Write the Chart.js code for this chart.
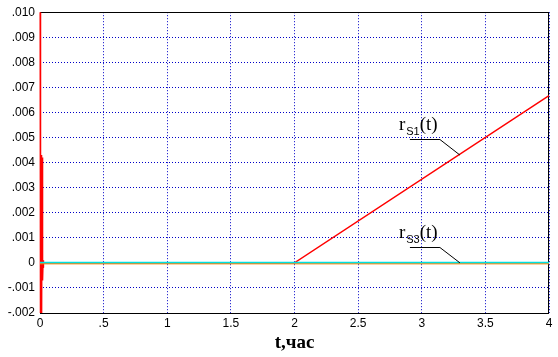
<!DOCTYPE html>
<html>
<head>
<meta charset="utf-8">
<script src="https://cdn.jsdelivr.net/npm/chart.js@4"></script>
<style>
  body { margin: 0; background: #fff; }
  canvas { display: block; }
</style>
</head>
<body>
<canvas id="chart" width="558" height="357"></canvas>
<script>
// r_S1(t): spike near t=0, then zero until t=2, then a linear rise
const tS1 = [0, 0.002, 0.004, 0.006, 0.008, 0.010, 0.012, 0.014, 0.016,
             0.018, 0.020, 0.022, 0.024, 0.026, 0.028, 2, 4];
const rS1 = [0.02, -0.003, 0.0043, -0.003, 0.0043, -0.003, 0.0042, -0.003, 0.0042,
             -0.0007, 0.0041, -0.0007, 0.0001, -0.0002, 0, 0, 0.00667];
// r_S2(t), r_S3(t): stay at zero
const tS2 = [0, 4];
const rS2 = [-0.00004, -0.00004];
const tS3 = [0, 4];
const rS3 = [0, 0];

const xTicks = [0, 0.5, 1, 1.5, 2, 2.5, 3, 3.5, 4];
const yTicks = [-0.002, -0.001, 0, 0.001, 0.002, 0.003, 0.004, 0.005, 0.006, 0.007, 0.008, 0.009, 0.010];

// labels with leader lines, anchored on the curves at t = 3.3
const labelNames = ["S1", "S3"];
const labelT = [3.3, 3.3];
const labelV = [0.0043, 0];

function pts(xs, ys) {
    return xs.map((x, i) => ({ x: x, y: ys[i] }));
}

function fmtY(v) {
    v = Math.round(v * 1000) / 1000;
    if (v === 0) return "0";
    return v.toFixed(3).replace("0.", ".");
}

function fmtX(v) {
    return String(v).replace(/^0\./, ".");
}

const frame = {
    id: "frame",
    beforeDatasetsDraw(chart) {
        const a = chart.chartArea;
        const ctx = chart.ctx;
        ctx.save();
        ctx.strokeStyle = "#000";
        ctx.lineWidth = 1;
        ctx.strokeRect(Math.round(a.left) + 0.5, Math.round(a.top) + 0.5,
            Math.round(a.right - a.left) - 1, Math.round(a.bottom - a.top));
        ctx.restore();
    },
    afterDatasetsDraw(chart) {
        const ctx = chart.ctx;
        const xs = chart.scales.x, ys = chart.scales.y;
        ctx.save();
        labelNames.forEach((name, i) => {
            const px = xs.getPixelForValue(labelT[i]);
            const py = ys.getPixelForValue(labelV[i]);
            ctx.strokeStyle = "#000";
            ctx.lineWidth = 1;
            ctx.beginPath();
            ctx.moveTo(px - 50, Math.round(py - 16) + 0.5);
            ctx.lineTo(px - 20, Math.round(py - 16) + 0.5);
            ctx.lineTo(px, py);
            ctx.stroke();

            let x = px - 61;
            const base = py - 25;
            ctx.fillStyle = "#000";
            ctx.textBaseline = "alphabetic";
            ctx.font = "19px 'Liberation Serif'";
            ctx.fillText("r", x, base);
            x += ctx.measureText("r").width + 1;
            ctx.font = "11px 'Liberation Sans'";
            ctx.fillText(name, x, base + 5);
            x += ctx.measureText(name).width;
            ctx.font = "19px 'Liberation Serif'";
            ctx.fillText("(t)", x, base);
        });
        ctx.restore();
    }
};

const grid = {
    color: "#0000c8",
    lineWidth: 1,
    drawTicks: false
};

new Chart(document.getElementById("chart"), {
    type: "scatter",
    data: {
        datasets: [
            { label: "rS2", data: pts(tS2, rS2), borderColor: "#ff8000", borderWidth: 1 },
            { label: "rS3", data: pts(tS3, rS3), borderColor: "#00e0e0", borderWidth: 2 },
            { label: "rS1", data: pts(tS1, rS1), borderColor: "#ff0000", borderWidth: 1.5,
              clip: { left: 3, top: 0, right: 0, bottom: 0 } }
        ]
    },
    options: {
        responsive: false,
        animation: false,
        showLine: true,
        elements: { point: { radius: 0 }, line: { tension: 0 } },
        layout: { padding: { top: 7, right: 9, left: 0, bottom: 0 } },
        plugins: { legend: { display: false }, tooltip: { enabled: false } },
        scales: {
            x: {
                type: "linear",
                min: 0, max: 4,
                afterBuildTicks: s => { s.ticks = xTicks.map(v => ({ value: v })); },
                afterFit: s => { s.height = 44; },
                ticks: {
                    callback: v => fmtX(v),
                    color: "#000",
                    padding: 3,
                    maxRotation: 0,
                    font: { family: "'Liberation Sans'", size: 12 }
                },
                grid: grid,
                border: { display: false, dash: [1, 2] },
                title: {
                    display: true,
                    text: "t,час",
                    color: "#000",
                    padding: { top: 0, bottom: 3 },
                    font: { family: "'Liberation Serif'", size: 19, weight: "bold" }
                }
            },
            y: {
                type: "linear",
                min: -0.002, max: 0.010,
                afterBuildTicks: s => { s.ticks = yTicks.map(v => ({ value: v })); },
                afterFit: s => { s.width = 40; },
                ticks: {
                    callback: v => fmtY(v),
                    color: "#000",
                    padding: 5,
                    font: { family: "'Liberation Sans'", size: 12 }
                },
                grid: grid,
                border: { display: false, dash: [1, 2] }
            }
        }
    },
    plugins: [frame]
});
</script>
</body>
</html>
